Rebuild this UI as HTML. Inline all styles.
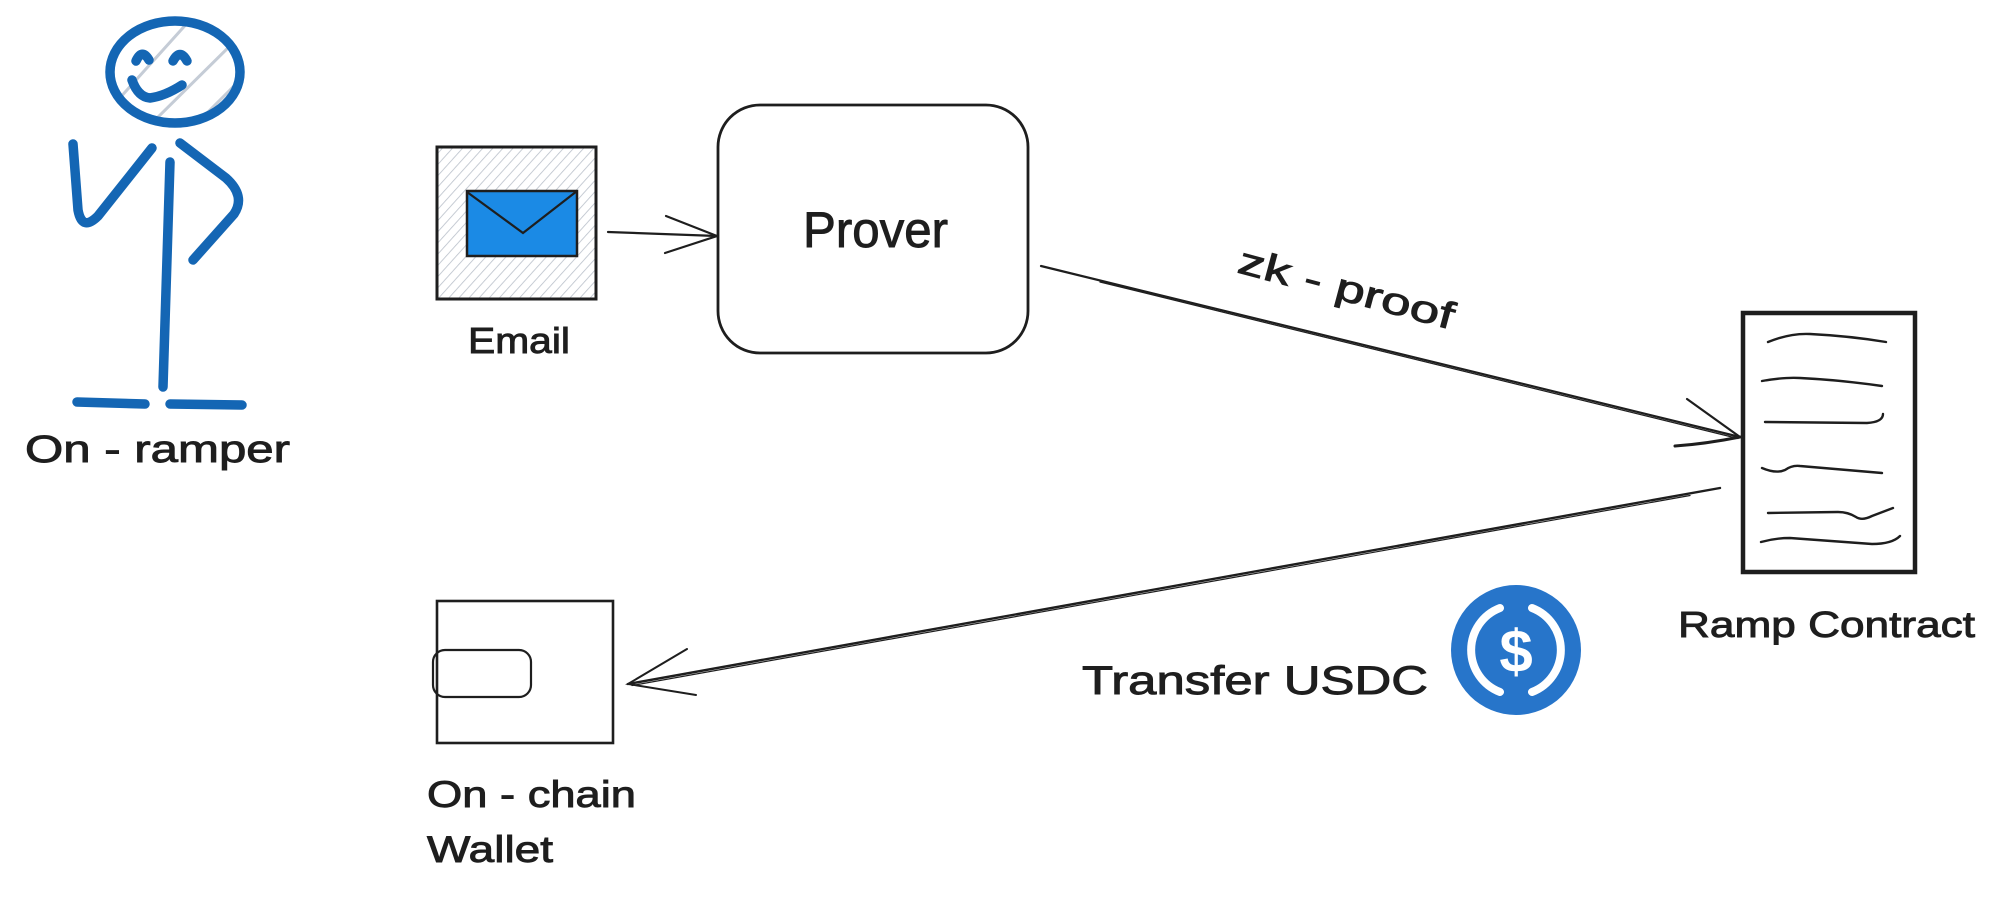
<!DOCTYPE html>
<html>
<head>
<meta charset="utf-8">
<style>
  html, body { margin: 0; padding: 0; background: #ffffff; }
  svg { display: block; }
  .t { font-family: "Liberation Sans", "DejaVu Sans", sans-serif; fill: #1e1e1e; stroke: #1e1e1e; stroke-width: 0.9; }
</style>
</head>
<body>
<svg width="2000" height="901" viewBox="0 0 2000 901" xmlns="http://www.w3.org/2000/svg">
  <defs>
    <pattern id="hatch" width="7.5" height="7.5" patternUnits="userSpaceOnUse" patternTransform="rotate(42)">
      <line x1="0" y1="0" x2="0" y2="7.5" stroke="#b9c0ca" stroke-width="1.6"/>
    </pattern>
    <clipPath id="headclip">
      <ellipse cx="175" cy="72" rx="64" ry="50"/>
    </clipPath>
  </defs>

  <rect width="2000" height="901" fill="#ffffff"/>

  <!-- ===== Stick figure (On - ramper) ===== -->
  <g clip-path="url(#headclip)" stroke="#c5ccd6" stroke-width="3" fill="none">
    <line x1="118" y1="100" x2="190" y2="20"/>
    <line x1="150" y1="125" x2="238" y2="38"/>
    <line x1="200" y1="120" x2="245" y2="75"/>
  </g>
  <g fill="none" stroke="#1466b4" stroke-width="9.5" stroke-linecap="round" stroke-linejoin="round">
    <ellipse cx="175" cy="72" rx="65" ry="51"/>
    <path d="M136,61 Q142,48 149,60"/>
    <path d="M173,61 Q180,48 187,61"/>
    <path d="M132,80 Q138,97 150,98 Q165,96 182,85"/>
    <path d="M73,144 L78,210 Q82,232 98,216 L152,148"/>
    <path d="M170,162 L163,387"/>
    <path d="M180,143 L226,178 Q246,196 234,214 L193,260"/>
    <path d="M77,402 L145,404"/>
    <path d="M170,404 L242,405"/>
  </g>
  <text class="t" x="25" y="462" font-size="38" textLength="265" lengthAdjust="spacingAndGlyphs">On - ramper</text>

  <!-- ===== Email ===== -->
  <rect x="437" y="147" width="159" height="152" fill="url(#hatch)"/>
  <rect x="437" y="147" width="159" height="152" fill="none" stroke="#1e1e1e" stroke-width="3"/>
  <rect x="467" y="191" width="110" height="65" fill="#1b8ae5" stroke="#1e1e1e" stroke-width="2.5"/>
  <path d="M467,192 L523,233 L577,191" fill="none" stroke="#1e1e1e" stroke-width="2.2"/>
  <text class="t" x="468" y="353" font-size="36" textLength="102" lengthAdjust="spacingAndGlyphs">Email</text>

  <!-- arrow email -> prover -->
  <g fill="none" stroke="#1e1e1e" stroke-width="2.2" stroke-linecap="round">
    <path d="M608,232 L717,236"/>
    <path d="M666,216 L717,236 L665,253"/>
  </g>

  <!-- ===== Prover ===== -->
  <rect x="718" y="105" width="310" height="248" rx="42" ry="42" fill="#ffffff" stroke="#1e1e1e" stroke-width="2.8"/>
  <text class="t" x="803" y="247" font-size="50" textLength="145" lengthAdjust="spacingAndGlyphs">Prover</text>

  <!-- ===== zk-proof arrow ===== -->
  <g fill="none" stroke="#1e1e1e" stroke-linecap="round">
    <path d="M1041,266 L1740,437" stroke-width="2.2"/>
    <path d="M1100,282 L1738,438.5" stroke-width="1.2"/>
    <path d="M1687,399 L1740,437" stroke-width="2.2"/>
    <path d="M1675,446 Q1705,444 1740,437" stroke-width="3"/>
  </g>
  <text class="t" transform="translate(1236,272) rotate(15)" x="0" y="0" font-size="38" textLength="222" lengthAdjust="spacingAndGlyphs">zk - proof</text>

  <!-- ===== Ramp Contract ===== -->
  <rect x="1743" y="313" width="172" height="259" fill="#ffffff" stroke="#1e1e1e" stroke-width="4.5"/>
  <g fill="none" stroke="#1e1e1e" stroke-width="2.4" stroke-linecap="round">
    <path d="M1768,342 Q1790,333 1810,334 Q1850,336 1886,342"/>
    <path d="M1762,381 Q1785,377 1800,378 Q1840,380 1882,386"/>
    <path d="M1765,422 L1867,423 Q1883,422 1883,414"/>
    <path d="M1762,468 Q1776,474 1785,470 Q1792,465 1800,466 L1882,473"/>
    <path d="M1768,513 L1838,512 Q1848,512 1856,517 Q1862,521 1872,516 L1893,508"/>
    <path d="M1761,542 Q1775,538 1790,538 L1872,544 Q1892,544 1900,536"/>
  </g>
  <text class="t" x="1678" y="637" font-size="36" textLength="297" lengthAdjust="spacingAndGlyphs">Ramp Contract</text>

  <!-- ===== Transfer arrow ===== -->
  <g fill="none" stroke="#1e1e1e" stroke-linecap="round">
    <path d="M1720,488 L628,684" stroke-width="2.4"/>
    <path d="M1690,495.5 L632,685.5" stroke-width="1.2"/>
    <path d="M687,649 L628,684 L696,695" stroke-width="2"/>
  </g>
  <text class="t" x="1082" y="694" font-size="40" textLength="346" lengthAdjust="spacingAndGlyphs">Transfer USDC</text>

  <!-- USDC icon -->
  <circle cx="1516" cy="650" r="65" fill="#2775ca"/>
  <g fill="none" stroke="#ffffff" stroke-width="8" stroke-linecap="round">
    <path d="M1500,608 A45,45 0 0 0 1500,692"/>
    <path d="M1532,608 A45,45 0 0 1 1532,692"/>
  </g>
  <text x="1516" y="672" font-family="Liberation Sans, DejaVu Sans, sans-serif" font-weight="bold" font-size="60" fill="#ffffff" text-anchor="middle">$</text>

  <!-- ===== Wallet ===== -->
  <rect x="437" y="601" width="176" height="142" fill="#ffffff" stroke="#1e1e1e" stroke-width="2.6"/>
  <rect x="433" y="650" width="98" height="47" rx="12" ry="12" fill="none" stroke="#1e1e1e" stroke-width="2.2"/>
  <text class="t" x="427" y="807" font-size="37" textLength="209" lengthAdjust="spacingAndGlyphs">On - chain</text>
  <text class="t" x="427" y="862" font-size="37" textLength="126" lengthAdjust="spacingAndGlyphs">Wallet</text>
</svg>
</body>
</html>
